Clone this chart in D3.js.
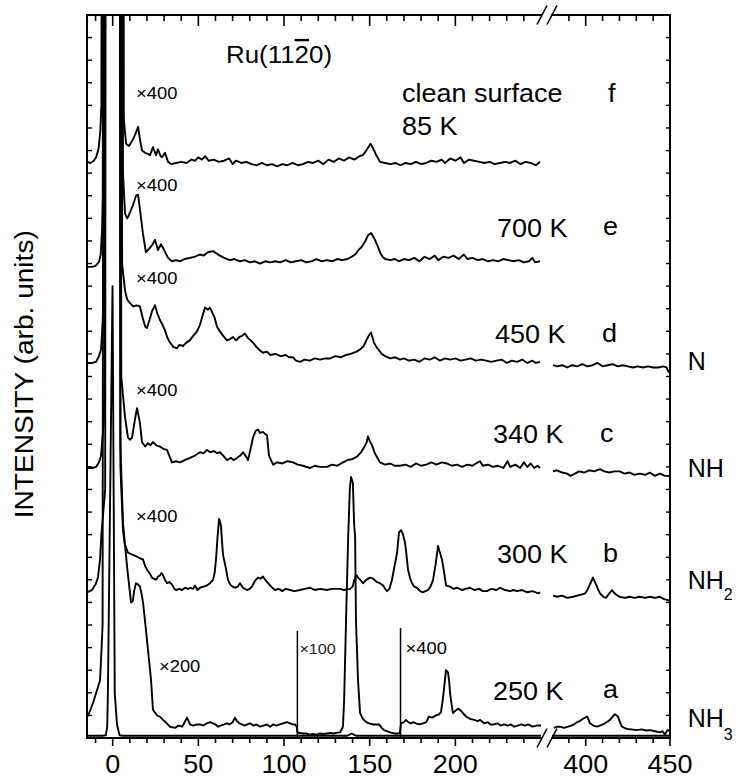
<!DOCTYPE html>
<html>
<head>
<meta charset="utf-8">
<script src="https://cdn.jsdelivr.net/npm/d3@7"></script>
<style>
  body { margin: 0; background: #fff; }
  svg { display: block; }
  text { font-family: "Liberation Sans", Arial, sans-serif; fill: #000; }
</style>
</head>
<body>
<div id="chart"></div>
<script>
// EELS spectra, Ru(11-20) + NH3. energy in meV, intensity in arb. units (offset as plotted)

var traceF = [[-15,25.5],[-13,25.45],[-11,25.55],[-9.7,25.7],[-8.2,26.1],[-7.2,26.9],[-6.6,28],[0,400],[6.5,27.4],[7.8,26.3],[9.5,26.2],[11.9,26.5],[13.6,26.8],[14.8,27.05],[15.9,26.5],[17.1,26.0],[18.9,25.9],[20.5,25.85],[21.8,25.8],[23.5,26.15],[25.3,25.8],[26.4,26.05],[28,25.75],[28.8,25.7],[30.5,25.9],[32.3,25.5],[34,25.4],[37,25.45],[40,25.5],[43,25.45],[46,25.6],[48,25.55],[50,25.7],[52,25.6],[54,25.75],[56,25.55],[59,25.6],[62,25.5],[65,25.55],[68,25.65],[70,25.4],[72,25.55],[75,25.45],[78,25.5],[81,25.4],[84,25.35],[87,25.45],[90,25.35],[93,25.4],[96,25.3],[99,25.4],[102,25.35],[105,25.45],[108,25.35],[111,25.4],[114,25.5],[117,25.45],[120,25.55],[123,25.4],[126,25.6],[129,25.5],[132,25.65],[135,25.55],[138,25.7],[141,25.6],[144,25.75],[146,25.8],[148,26.0],[150.5,26.3],[152,26.1],[153.5,25.85],[156,25.5],[159,25.45],[162,25.4],[165,25.45],[168,25.35],[171,25.45],[174,25.4],[177,25.5],[180,25.4],[183,25.45],[186,25.55],[189,25.5],[192,25.6],[194,25.45],[197,25.65],[200,25.55],[203,25.7],[205,25.45],[208,25.6],[211,25.55],[214,25.5],[217,25.45],[220,25.5],[223,25.4],[226,25.45],[229,25.5],[232,25.45],[235,25.55],[238,25.4],[241,25.5],[244,25.45],[247,25.35],[249.5,25.5]];

var traceE = [[-15,20.85],[-12,20.85],[-10,20.9],[-8,21.07],[-7,21.4],[-6.2,22.5],[-5.8,24],[0,400],[6,25],[7.2,23.2],[8.5,23.0],[9.5,23.15],[11.9,23.6],[13.6,24.0],[14.8,24.05],[15.9,23.4],[17.7,22.3],[19.4,21.5],[21.2,21.65],[22.9,21.8],[24.7,22.05],[26.4,21.6],[28.2,21.85],[30,21.6],[32.3,21.25],[34.6,21.1],[37,21.15],[39.3,21.1],[42,21.2],[45.1,21.25],[48,21.3],[51,21.4],[53,21.35],[55.6,21.5],[58.6,21.55],[60.5,21.45],[62.6,21.35],[65,21.25],[68.5,21.15],[71,21.2],[74.3,21.1],[77,21.15],[80.2,21.05],[83,21.1],[86,21.0],[89,21.1],[92,21.05],[95,21.1],[97.7,21.05],[101,21.15],[104,21.05],[107,21.1],[110,21.15],[113,21.05],[116,21.1],[119,21.2],[122,21.1],[125,21.15],[128,21.1],[131,21.2],[134,21.15],[137,21.2],[139.5,21.3],[141.5,21.4],[143.5,21.6],[145.5,21.75],[147.5,22.0],[149,22.25],[150.8,22.35],[152,22.2],[153.1,22.05],[154.5,21.8],[156,21.5],[157.5,21.3],[159,21.2],[162,21.15],[164.8,21.2],[167,21.1],[170,21.2],[173,21.15],[176,21.25],[179,21.1],[182,21.3],[185,21.2],[188,21.35],[190,21.15],[193,21.3],[196,21.25],[199,21.35],[202,21.2],[205,21.4],[207,21.2],[210,21.25],[213,21.15],[216,21.2],[219,21.1],[222,21.15],[225,21.1],[228,21.2],[231,21.15],[234,21.1],[237,21.15],[240,21.05],[243,21.1],[245,21.25],[246.5,21.05],[249.4,21.1]];

var traceD = [[-15,16.6],[-12,16.6],[-9.7,16.65],[-8,16.9],[-6.8,17.2],[-5.8,18.5],[-5.3,20],[0,400],[5.5,21],[7.2,19.8],[8.5,19.4],[10.1,19.25],[12,19.1],[14,19.15],[15.9,19.1],[17.5,18.6],[19,18.2],[20,18.15],[21.5,18.5],[23,18.9],[24.7,19.15],[26,18.8],[27.6,18.5],[29,18.3],[30.5,18.05],[32,17.7],[33.5,17.5],[35.5,17.3],[37.5,17.25],[39,17.4],[41,17.35],[43,17.5],[45,17.6],[47,17.8],[49.2,18.0],[51,18.3],[52.5,18.7],[53.9,19.05],[55.5,18.95],[56.8,19.05],[58,18.85],[59.5,18.6],[60.9,18.2],[62.5,18.0],[64.5,17.8],[66.7,17.6],[68.5,17.65],[70.2,17.75],[72,17.6],[74,17.75],[75.5,17.8],[77.2,17.9],[79,17.7],[80.5,17.6],[81.9,17.5],[84,17.3],[86,17.15],[87.7,17.05],[90,17.1],[92,16.95],[95,17.0],[98,16.9],[101,16.95],[103,16.85],[105.3,16.85],[107,16.7],[109.3,16.65],[112,16.75],[115,16.7],[118,16.8],[121,16.75],[124,16.8],[126.9,16.8],[130,16.9],[133,16.85],[136,16.95],[139,17.0],[142.4,17.1],[144.5,17.2],[146.5,17.35],[148,17.6],[149.5,17.8],[150.8,17.95],[152.5,17.5],[154,17.3],[155.5,17.15],[157,17.0],[159,16.9],[162,16.8],[165,16.85],[167.7,16.75],[170,16.8],[173,16.7],[176,16.75],[179,16.65],[182,16.8],[185,16.75],[188,16.85],[191,16.7],[194,16.8],[197,16.75],[200,16.8],[203,16.7],[206,16.75],[209,16.8],[212,16.7],[215,16.75],[218,16.7],[221,16.65],[224,16.7],[227,16.75],[230,16.6],[233,16.7],[236,16.65],[239,16.75],[242,16.6],[245,16.7],[247,16.6],[249.4,16.65]];
var traceDRight = [[380.6,16.5],[383,16.45],[386,16.5],[389,16.4],[392,16.5],[395,16.45],[398,16.55],[401,16.45],[404,16.5],[407,16.6],[410,16.45],[413,16.5],[416,16.55],[419,16.45],[422,16.5],[425,16.45],[428,16.4],[431,16.45],[434,16.4],[437,16.45],[440,16.4],[443,16.4],[446,16.45],[448,16.4],[449,16.2],[450,16.3]];

var traceC = [[-15,11.95],[-12,11.95],[-9.7,12.0],[-8,12.2],[-6.8,12.5],[-5.2,14],[-4.8,16],[0,400],[5,16],[7.2,14.2],[8.9,13.3],[10,13.2],[11.3,13.3],[13,14.1],[14.2,14.6],[15.9,13.95],[17.1,13.1],[18.9,12.9],[20.6,13.05],[22,12.95],[23.5,13.1],[25.5,12.95],[27.6,12.9],[29.5,12.8],[31.7,12.75],[33,12.5],[34.6,12.2],[37,12.25],[39.3,12.2],[42,12.3],[45.1,12.4],[48,12.5],[51,12.65],[53,12.6],[55,12.75],[57,12.65],[59,12.7],[61,12.6],[62.6,12.65],[64.5,12.5],[66.7,12.3],[69,12.4],[70.5,12.3],[72.6,12.4],[74.5,12.5],[76.1,12.65],[77.5,12.5],[79,12.3],[80.5,12.8],[81.9,13.3],[83.5,13.6],[84.8,13.65],[86,13.5],[87.7,13.55],[89,13.45],[90.1,13.4],[91.2,12.5],[93.6,12.1],[96,12.2],[99,12.15],[102,12.25],[105.3,12.2],[108,12.1],[111,12.05],[115.2,11.95],[118,12.05],[121,12.0],[125.1,12.0],[128,12.1],[131,12.05],[134.4,12.2],[137,12.3],[140,12.35],[142.6,12.45],[145,12.65],[147,12.9],[148.3,13.1],[149,13.35],[150,13.15],[151.4,12.95],[153,12.6],[154.5,12.4],[156,12.2],[159,12.1],[162,12.15],[164.5,12.05],[167.7,12.05],[171,12.1],[174,12.0],[177,12.15],[180,12.05],[183,12.1],[186,12.2],[189,12.1],[192,12.2],[195,12.15],[198,12.05],[201,12.1],[204,12.0],[207,12.1],[210,12.05],[212,12.15],[214.4,12.25],[216,12.05],[219,12.1],[222,12.0],[225,12.05],[228,11.95],[230.5,12.25],[232,12.0],[235,12.1],[237.8,11.95],[240,12.2],[242,12.0],[244,12.15],[246,11.95],[248,12.05],[249.4,11.95]];
var traceCRight = [[380.6,11.8],[383,11.85],[386,11.75],[389,11.7],[391,11.6],[393.6,11.7],[396,11.8],[399,11.75],[402,11.85],[405,11.8],[408.5,11.9],[411,11.8],[414,11.75],[417,11.8],[420.3,11.8],[423,11.7],[426,11.75],[429,11.65],[432,11.7],[435.2,11.65],[438,11.75],[441,11.6],[444,11.7],[447,11.6],[450,11.6]];

var traceB = [[-15,6.45],[-12.1,6.55],[-10,6.8],[-8.6,7.1],[-7.4,7.9],[-6.6,9],[-4.4,11],[0,400],[4.5,12],[6,9.2],[7,8.6],[8.9,8.2],[10.5,8.15],[11.9,8.1],[13.5,8.05],[14.8,8.0],[16,7.95],[17.7,7.9],[19,7.6],[20,7.45],[21.5,7.3],[22.9,7.1],[24,7.05],[25.3,7.0],[26.5,7.15],[27.6,7.2],[28.5,7.3],[29.4,7.2],[30.5,7.0],[31.7,6.85],[33,6.9],[34.6,6.8],[36,6.6],[37,6.55],[39,6.6],[40.5,6.55],[42.2,6.65],[44,6.6],[45.5,6.65],[46.9,6.6],[48,6.75],[49.5,6.55],[51,6.65],[53,6.7],[55,6.75],[56.8,6.85],[58.6,7.0],[59.5,7.3],[60.3,7.9],[61.2,8.9],[62.1,9.7],[63.2,9.4],[63.8,8.7],[64.4,8.1],[66.1,7.5],[67.3,7.0],[68.5,6.8],[70,6.7],[71.4,6.65],[73,6.7],[74.3,6.85],[76,6.65],[78.4,6.55],[80,6.6],[81.3,6.7],[83,6.95],[84.8,7.1],[86.3,7.05],[87.7,7.15],[89,7.0],[90.7,6.85],[92.5,6.7],[94.7,6.55],[97,6.6],[99,6.5],[101,6.6],[103.5,6.55],[106,6.5],[109.3,6.55],[112,6.6],[115.2,6.65],[118,6.55],[121,6.6],[125.1,6.55],[128,6.6],[132.7,6.6],[135,6.55],[138.5,6.6],[140,6.7],[141.5,7.1],[142.5,7.2],[143.2,7.1],[144.5,7.0],[146.1,6.85],[148,7.0],[150.2,7.1],[152,7.05],[154.3,6.9],[156,6.85],[157.8,6.75],[159,6.6],[160.1,6.5],[161.5,6.6],[163,7.0],[164.5,7.6],[166,8.2],[167.1,9.1],[168.3,9.2],[169.5,9.0],[170.5,8.7],[171.2,8.3],[172.4,7.45],[173.5,7.1],[174.7,6.85],[176,6.7],[177.6,6.65],[179.5,6.5],[181.1,6.45],[182.5,6.5],[184,6.55],[185.5,6.7],[187,7.0],[188.5,7.7],[189.9,8.5],[190.6,8.3],[191.1,8.2],[192,7.95],[192.8,7.65],[193.7,7.2],[194.6,6.75],[196.9,6.7],[199,6.6],[201,6.65],[204,6.55],[206,6.6],[208.6,6.65],[211,6.55],[214,6.6],[216,6.5],[218.5,6.5],[221,6.6],[224,6.55],[226.1,6.65],[229,6.55],[232,6.5],[234,6.55],[236,6.5],[239,6.55],[242,6.45],[245,6.5],[248.3,6.4],[249.5,6.45]];
var traceBRight = [[380.6,6.3],[383,6.25],[386,6.3],[389,6.2],[392.5,6.25],[395,6.3],[397.5,6.35],[399.6,6.4],[401,6.55],[402.5,6.8],[404.3,7.1],[405.2,6.95],[406.1,6.8],[407.5,6.55],[408.5,6.4],[410.5,6.25],[412,6.2],[413.5,6.35],[415.6,6.55],[416.5,6.45],[418,6.35],[420,6.25],[423.3,6.2],[426,6.25],[429,6.2],[432,6.25],[435.2,6.2],[438,6.25],[441,6.2],[444,6.25],[446.5,6.15],[448.8,6.1],[450,6.1]];

// trace a: x200 up to 108 meV, x100 up to 168 meV, x400 above
var traceA = [[-15,0.93],[-13.5,1.15],[-11.5,1.55],[-9.2,2.1],[-7.4,2.55],[-6.6,3.8],[-5.9,5],[0,400],[4.5,13],[6,9.5],[8.5,7.5],[10.7,6.0],[11.7,6.05],[12.5,6.5],[13.6,6.85],[14.8,6.8],[15.9,6.7],[16.8,6.4],[17.7,6.0],[19.4,4.8],[20.6,3.9],[22.4,2.55],[23.5,1.25],[25.9,1.0],[27.5,0.95],[29.4,0.8],[31.5,0.65],[33.5,0.5],[36.4,0.45],[38.5,0.55],[40.5,0.5],[42,0.7],[43.4,0.9],[44.3,0.75],[45.1,0.6],[47,0.55],[49,0.6],[51,0.6],[53,0.55],[55,0.65],[56.8,0.7],[58.5,0.65],[60,0.6],[61.5,0.5],[63,0.55],[65,0.6],[66.7,0.65],[68,0.6],[70,0.7],[71.4,0.9],[72.5,0.75],[74,0.65],[75.5,0.6],[77,0.55],[78.5,0.6],[80.2,0.65],[82,0.55],[84,0.6],[86,0.5],[88,0.55],[90,0.6],[91.8,0.5],[93.6,0.6],[95.5,0.55],[97.5,0.6],[99.5,0.65],[101.8,0.7],[103.5,0.65],[105,0.6],[106.4,0.6],[107.4,0.5],[107.8,0.25],[109.3,0.22],[111,0.2],[113,0.2],[115,0.15],[116.9,0.18],[119,0.15],[121,0.2],[123,0.18],[125.1,0.2],[127,0.22],[129,0.2],[131,0.24],[132.7,0.25],[134.4,0.5],[135.1,1.7],[136.2,5.2],[137.4,8.75],[138.4,11.0],[139.1,11.55],[140.2,11.3],[140.9,9.5],[141.5,8.9],[142,5.2],[143.2,2.55],[144.4,1.1],[146,0.85],[148,0.7],[149.6,0.65],[152,0.6],[155.5,0.6],[157,0.45],[158.4,0.35],[160,0.3],[162,0.25],[164.3,0.2],[166,0.2],[167.6,0.2],[168.3,0.65],[170,0.7],[171.2,0.8],[172.5,0.7],[174.1,0.65],[175.5,0.7],[177,0.65],[179,0.6],[181.1,0.65],[183,0.7],[184.6,0.95],[186.5,0.9],[188.7,1.0],[190.5,1.05],[191.6,1.15],[192.5,1.6],[193.3,2.1],[194.5,3.0],[195.7,2.9],[196.4,2.5],[196.9,2.0],[197.8,1.5],[198.6,1.1],[200,1.2],[201.6,1.3],[203.4,1.2],[205,1.05],[206.3,0.95],[208.5,0.85],[211,0.8],[213,0.75],[214.5,0.8],[216.8,0.65],[219,0.7],[220.5,0.6],[222.6,0.6],[224.5,0.65],[226.5,0.55],[228.5,0.6],[230.5,0.55],[232.5,0.6],[234.3,0.5],[236.5,0.55],[238.5,0.6],[240.5,0.55],[242.5,0.6],[245,0.5],[247.5,0.55],[250,0.55]];
var traceARight = [[381.2,0.45],[383,0.5],[384.7,0.5],[387,0.45],[389.5,0.5],[391.5,0.55],[393,0.6],[394.8,0.7],[396.5,0.75],[398.4,0.85],[400.8,0.95],[401.8,0.8],[402.5,0.65],[404.5,0.55],[406.7,0.5],[408.5,0.55],[410.2,0.6],[412.3,0.7],[414.4,0.8],[416,0.95],[417.4,1.05],[418.3,1.0],[419.1,0.95],[420.3,0.7],[421.5,0.5],[423,0.45],[424.5,0.4],[427,0.38],[430.4,0.35],[433,0.38],[436,0.33],[438.1,0.35],[441,0.3],[444.1,0.25],[445.5,0.3],[447,0.15],[448,0.3],[448.8,0.35],[450,0.3]];

// trace a at x1 (elastic peak)
var traceA1 = [[-15,0.1],[-6,0.1],[-4,0.12],[-3.2,0.5],[-2.8,2],[-0.1,20],[1.2,2],[2.5,0.6],[4,0.12],[6,0.1],[137,0.1],[139.5,0.2],[142,0.1],[250,0.1]];
var traceA1Right = [[380,0.1],[450,0.1]];

// scale change markers on trace a: energy, top of marker line, label
var markEnergy = [107.8, 168];
var markTop = [4.74, 4.87];
var markLabel = ["×100", "×400"];

var ticksMajorLeft = [0, 50, 100, 150, 200];
var ticksMinorLeft = [-10, 10, 20, 30, 40, 60, 70, 80, 90, 110, 120, 130, 140, 160, 170, 180, 190, 210, 220, 230, 240];
var ticksMajorRight = [400, 450];
var ticksMinorRight = [390, 410, 420, 430, 440];
var ticksY = d3.range(1, 32);

// ---------------------------------------------------------------
var svg = d3.select("#chart").append("svg")
  .attr("width", 736)
  .attr("height", 778);

var x = d3.scaleLinear().domain([-15, 250]).range([87, 541]);
var x2 = d3.scaleLinear().domain([380, 450]).range([552, 670]);
var y = d3.scaleLinear().domain([0, 32]).range([738, 15]);

var defs = svg.append("defs");
defs.append("clipPath").attr("id", "clipL").append("rect")
  .attr("x", x(-15)).attr("y", y(32)).attr("width", x(250) - x(-15) + 2).attr("height", y(0) - y(32));
defs.append("clipPath").attr("id", "clipR").append("rect")
  .attr("x", x2(380)).attr("y", y(32)).attr("width", x2(450) - x2(380)).attr("height", y(0) - y(32));

var lineL = d3.line().x(function(d) { return x(d[0]); }).y(function(d) { return y(d[1]); });
var lineR = d3.line().x(function(d) { return x2(d[0]); }).y(function(d) { return y(d[1]); });

var gL = svg.append("g").attr("clip-path", "url(#clipL)");
var gR = svg.append("g").attr("clip-path", "url(#clipR)");

[traceA1, traceF, traceE, traceD, traceC, traceB, traceA].forEach(function(t) {
  gL.append("path").attr("d", lineL(t))
    .attr("fill", "none").attr("stroke", "#000").attr("stroke-width", 1.9)
    .attr("stroke-linejoin", "round");
});
[traceA1Right, traceDRight, traceCRight, traceBRight, traceARight].forEach(function(t) {
  gR.append("path").attr("d", lineR(t))
    .attr("fill", "none").attr("stroke", "#000").attr("stroke-width", 1.9)
    .attr("stroke-linejoin", "round");
});

// scale-change markers
markEnergy.forEach(function(e, i) {
  svg.append("line")
    .attr("x1", x(e)).attr("x2", x(e))
    .attr("y1", y(0)).attr("y2", y(markTop[i]))
    .attr("stroke", "#000").attr("stroke-width", 1.5);
});

// frame
function seg(x1, y1, x2_, y2) {
  svg.append("line").attr("x1", x1).attr("y1", y1).attr("x2", x2_).attr("y2", y2)
    .attr("stroke", "#000").attr("stroke-width", 2);
}
seg(x(-15), y(0), x(-15), y(32));
seg(x2(450), y(0), x2(450), y(32));
seg(x(-15) - 1, y(0), x(250) + 1, y(0));
seg(x2(380) - 1, y(0), x2(450) + 1, y(0));
seg(x(-15) - 1, y(32), x(250) + 1, y(32));
seg(x2(380) - 1, y(32), x2(450) + 1, y(32));

// axis break marks
[y(0), y(32)].forEach(function(yy) {
  [x(250) + 1, x2(380)].forEach(function(xx) {
    svg.append("line").attr("x1", xx - 5).attr("y1", yy + 9.5).attr("x2", xx + 5).attr("y2", yy - 9.5)
      .attr("stroke", "#000").attr("stroke-width", 1.6);
  });
});

// ticks
function xTicks(scale, vals, len, yy, dir) {
  svg.append("g").selectAll("line").data(vals).enter().append("line")
    .attr("x1", function(d) { return scale(d); }).attr("x2", function(d) { return scale(d); })
    .attr("y1", yy).attr("y2", yy + dir * len)
    .attr("stroke", "#000").attr("stroke-width", 1.6);
}
xTicks(x, ticksMinorLeft, 5, y(0), 1);
xTicks(x, ticksMajorLeft, 8, y(0), 1);
xTicks(x2, ticksMinorRight, 5, y(0), 1);
xTicks(x2, ticksMajorRight, 8, y(0), 1);
xTicks(x, ticksMinorLeft, 6, y(32), 1);
xTicks(x, ticksMajorLeft, 11, y(32), 1);
xTicks(x2, ticksMinorRight, 6, y(32), 1);
xTicks(x2, ticksMajorRight, 11, y(32), 1);

svg.append("g").selectAll("line").data(ticksY).enter().append("line")
  .attr("x1", x(-15)).attr("x2", x(-15) + 5)
  .attr("y1", function(d) { return y(d); }).attr("y2", function(d) { return y(d); })
  .attr("stroke", "#000").attr("stroke-width", 1.4);
svg.append("g").selectAll("line").data(ticksY).enter().append("line")
  .attr("x1", x2(450)).attr("x2", x2(450) - 4)
  .attr("y1", function(d) { return y(d); }).attr("y2", function(d) { return y(d); })
  .attr("stroke", "#000").attr("stroke-width", 1.4);

// text helper (the original lettering is a little wider than Arial)
function label(px, py, str, size, anchor, sx) {
  return svg.append("text")
    .attr("transform", "translate(" + px + "," + py + ") scale(" + (sx || 1.08) + ",1)")
    .attr("text-anchor", anchor || "start")
    .style("font-size", size + "px")
    .text(str);
}

ticksMajorLeft.forEach(function(t) { label(x(t), 773, t, 25, "middle"); });
ticksMajorRight.forEach(function(t) { label(x2(t), 773, t, 25, "middle"); });

svg.append("text")
  .attr("transform", "translate(33," + y(16.1) + ") rotate(-90) scale(1.08,1)")
  .attr("text-anchor", "middle")
  .style("font-size", "26px")
  .text("INTENSITY (arb. units)");

// title Ru(11-20)
var ru = svg.append("text")
  .attr("transform", "translate(" + x(66.1) + "," + y(29.88) + ") scale(1.08,1)")
  .style("font-size", "24px");
ru.append("tspan").text("Ru(11");
ru.append("tspan").style("text-decoration", "overline").text("2");
ru.append("tspan").text("0)");

// multiplier labels
var multX = [13.6, 13.6, 13.6, 13.6, 13.6];
var multY = [28.29, 24.21, 20.1, 15.14, 9.56];
multY.forEach(function(v, i) { label(x(multX[i]), y(v), "×400", 17); });
label(x(27), y(2.92), "×200", 17);
label(x(markEnergy[0]) + 2, y(3.72), markLabel[0], 15).style("fill", "#222");
label(x(markEnergy[1]) + 5, y(3.72), markLabel[1], 17);

// temperature / curve labels
var tempText = ["700 K", "450 K", "340 K", "300 K", "250 K"];
var tempE = [224.3, 223.2, 222.0, 224.3, 222.0];
var tempI = [22.18, 17.49, 13.06, 7.75, 1.68];
tempText.forEach(function(s, i) { label(x(tempE[i]), y(tempI[i]), s, 25); });
label(x(168.9), y(28.15), "clean surface", 25);
label(x(168.9), y(26.69), "85 K", 25);

var curveText = ["f", "e", "d", "c", "b", "a"];
var curveE = [413.2, 410.2, 409.7, 408.5, 410.2, 410.2];
var curveI = [28.15, 22.27, 17.53, 13.1, 7.79, 1.77];
curveText.forEach(function(s, i) { label(x2(curveE[i]), y(curveI[i]), s, 25); });

// species labels on the right
label(x2(460.5), y(16.29), "N", 25, "start", 1);
label(x2(460.5), y(11.55), "NH", 25, "start", 1);
var nh2 = label(x2(460.5), y(6.6), "NH", 25, "start", 1);
nh2.append("tspan").attr("dy", 11).style("font-size", "16px").text("2");
var nh3 = label(x2(460.5), y(0.49), "NH", 25, "start", 1);
nh3.append("tspan").attr("dy", 13).style("font-size", "16px").text("3");
</script>
</body>
</html>
